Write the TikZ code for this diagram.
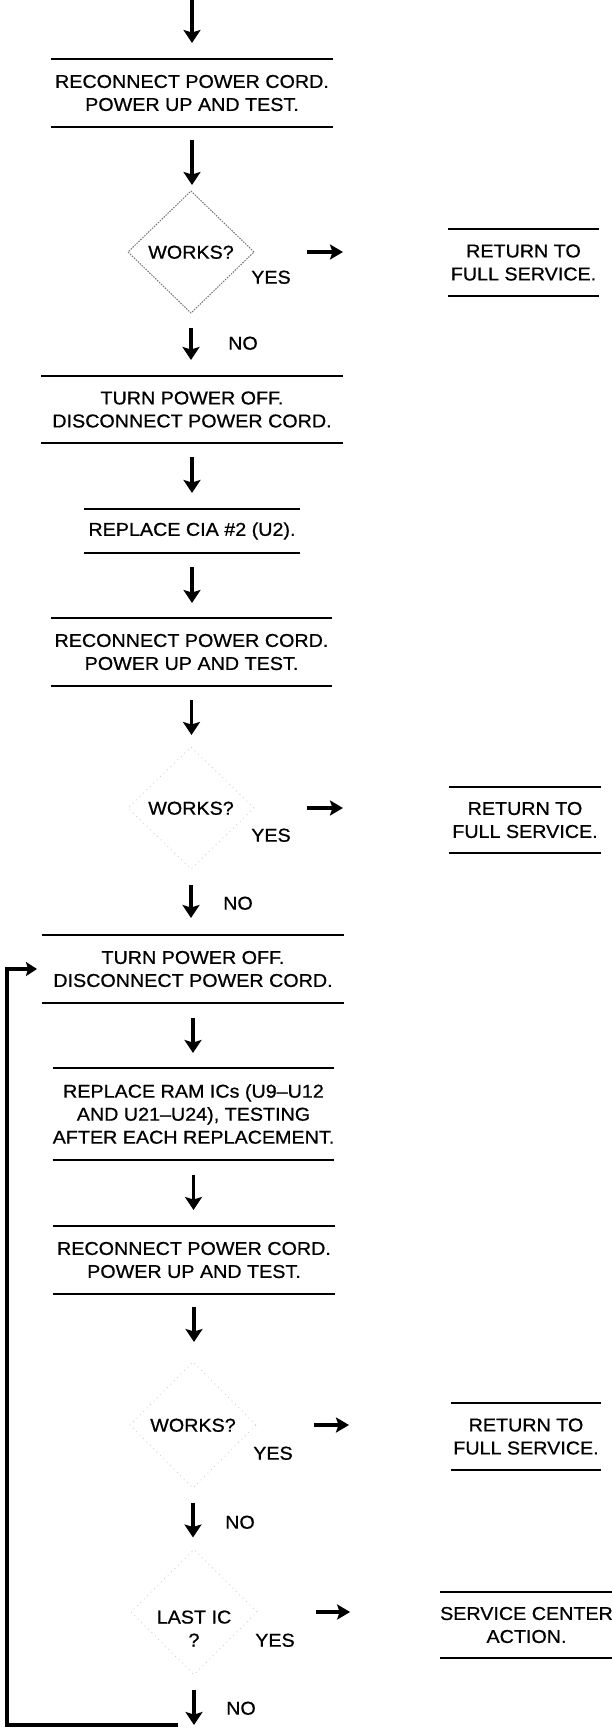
\documentclass[tikz,border=0pt]{standalone}
\usepackage{fontspec}
\setmainfont[FakeStretch=1.06,FakeBold=0.7]{Liberation Sans}
\usetikzlibrary{arrows.meta,shapes.geometric}
\newcommand{\boxfont}{\fontsize{18.6}{23}\selectfont}
\begin{document}
\begin{tikzpicture}[x=1pt,y=-1pt,
  stepbox/.style={minimum height=68pt, inner sep=0pt, outer sep=0pt, align=center, font=\boxfont},
  rule/.style={line width=2pt},
  flow/.style={line width=3.2pt, -{Stealth[length=13pt,width=17pt,inset=2.5pt]}, shorten <=14pt, shorten >=15pt},
  hflow/.style={line width=3.2pt, -{Stealth[length=13pt,width=15pt,inset=2.5pt]}},
  dia/.style={diamond, aspect=1, minimum width=126pt, minimum height=122pt, inner sep=0pt, outer sep=0pt,
              draw=black!55, line width=1pt, dash pattern=on 1.5pt off 1.2pt,
              font=\boxfont, text height=13.3pt, text depth=0pt},
  faintdia/.style={dia, draw=gray!40, line width=0.9pt, dash pattern=on 0.8pt off 4pt},
  lbl/.style={inner sep=0pt, font=\boxfont, text height=13.3pt, text depth=0pt},
  looppath/.style={line width=3.4pt, -{Stealth[length=11pt,width=14pt,inset=2pt]}}
]
\useasboundingbox (0,0) rectangle (612,1730);

% boxes and decisions
\node[stepbox, minimum width=282pt] (b1) at (192,93) {RECONNECT POWER CORD.\\POWER UP AND TEST.};
\node[dia] (d1) at (191,252) {WORKS?};
\node[lbl] (y1) at (271,277) {YES};
\node[stepbox, minimum width=151pt, minimum height=67pt] (r1) at (523.5,262.5) {RETURN TO\\FULL SERVICE.};
\node[lbl] (n1) at (243,343) {NO};

\node[stepbox, minimum width=302pt, minimum height=67pt] (b2) at (192,409.5) {TURN POWER OFF.\\DISCONNECT POWER CORD.};
\node[stepbox, minimum width=216pt, minimum height=44pt] (b3) at (192,531) {REPLACE CIA \#2 (U2).};
\node[stepbox, minimum width=281pt] (b4) at (191.5,652) {RECONNECT POWER CORD.\\POWER UP AND TEST.};
\node[faintdia] (d2) at (191,808) {WORKS?};
\node[lbl] (y2) at (271,835) {YES};
\node[stepbox, minimum width=152pt, minimum height=66pt] (r2) at (525,820) {RETURN TO\\FULL SERVICE.};
\node[lbl] (n2) at (238,903) {NO};

\node[stepbox, minimum width=302pt] (b5) at (193,969) {TURN POWER OFF.\\DISCONNECT POWER CORD.};
\node[stepbox, minimum width=281pt, minimum height=92pt] (b6) at (193.5,1114) {REPLACE RAM ICs (U9--U12\\AND U21--U24), TESTING\\AFTER EACH REPLACEMENT.};
\node[stepbox, minimum width=282pt] (b7) at (194,1260) {RECONNECT POWER CORD.\\POWER UP AND TEST.};
\node[faintdia, minimum height=126pt] (d3) at (193,1425) {WORKS?};
\node[lbl] (y3) at (273,1453) {YES};
\node[stepbox, minimum width=150pt, minimum height=67pt] (r3) at (526,1436.5) {RETURN TO\\FULL SERVICE.};
\node[lbl] (n3) at (240,1522) {NO};

\node[faintdia, minimum height=125pt] (d4) at (194,1612) {};
\node[stepbox, minimum height=0pt] (q4) at (194,1628.5) {LAST IC\\?};
\node[lbl] (y4) at (275,1640) {YES};
\node[stepbox, minimum width=171pt, minimum height=66pt] (s1) at (526.5,1625) {SERVICE CENTER\\ACTION.};
\node[lbl] (n4) at (241,1708) {NO};

% top and bottom rules of the boxes
\foreach \n in {b1,b2,b3,b4,b5,b6,b7,r1,r2,r3,s1}
  \draw[rule] (\n.north west) -- (\n.north east) (\n.south west) -- (\n.south east);

% vertical flow
\coordinate (top) at (192,0);
\coordinate (lp) at (178,1725);
\coordinate (lc) at (7,1725);
\draw[flow, shorten <=0pt, shorten >=16pt] (top) -- (b1.north);
\draw[flow, shorten <=13pt, shorten >=6pt] (b1.south) -- (b1.south |- d1.north);
\draw[flow, shorten <=15pt, shorten >=16pt] (d1.south) -- (d1.south |- b2.north);
\draw[flow, shorten <=14pt, shorten >=16pt] (b2.south) -- (b2.south |- b3.north);
\draw[flow, shorten <=14pt, shorten >=15pt] (b3.south) -- (b3.south |- b4.north);
\draw[flow, shorten <=14pt, shorten >=12pt] (b4.south) -- (b4.south |- d2.north);
\draw[flow, shorten <=16pt, shorten >=17pt] (d2.south) -- (d2.south |- b5.north);
\draw[flow, shorten <=15pt, shorten >=15pt] (b5.south) -- (b5.south |- b6.north);
\draw[flow, shorten <=15pt, shorten >=16pt] (b6.south) -- (b6.south |- b7.north);
\draw[flow, shorten <=13pt, shorten >=20pt] (b7.south) -- (b7.south |- d3.north);
\draw[flow, shorten <=15pt, shorten >=12pt] (d3.south) -- (d3.south |- d4.north);
\draw[flow, shorten <=15pt, shorten >=0pt] (d4.south) -- (d4.south |- lp);

% horizontal YES arrows
\draw[hflow, shorten <=53pt, shorten >=105pt] (d1.east) -- (d1.east -| r1.west);
\draw[hflow, shorten <=53pt, shorten >=106pt] (d2.east) -- (d2.east -| r2.west);
\draw[hflow, shorten <=58pt, shorten >=102pt] (d3.east) -- (d3.east -| r3.west);
\draw[hflow, shorten <=59pt, shorten >=90pt] (d4.east) -- (d4.east -| s1.west);

% loop back
\draw[looppath, shorten >=5pt] (lp) -- (lc) |- (b5.west);
\end{tikzpicture}
\end{document}
